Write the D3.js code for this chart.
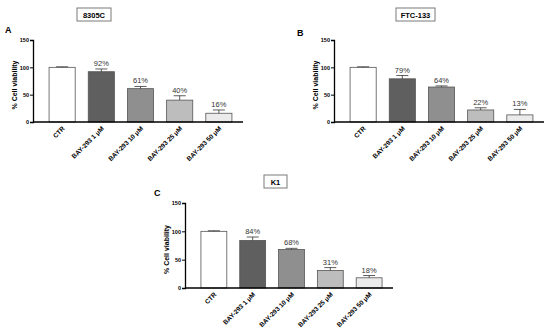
<!DOCTYPE html>
<html>
<head>
<meta charset="utf-8">
<script src="https://cdn.jsdelivr.net/npm/d3@7"></script>
<style>
  body { margin: 0; background: #fff; }
  svg { font-family: "Liberation Sans", Arial, sans-serif; }
</style>
</head>
<body>
<div id="chart"></div>
<script>
// categories shared by all three panels
const categories = ['CTR', 'BAY-293 1 μM', 'BAY-293 10 μM', 'BAY-293 25 μM', 'BAY-293 50 μM'];
const yTicks = [0, 50, 100, 150];
const barColors = ['#ffffff', '#5f5f5f', '#8f8f8f', '#bdbdbd', '#ebebeb'];

// values (mean, error)
const mean8305C = [100, 92, 61, 40, 16];
const err8305C = [1, 5, 4, 8, 6];
const labels8305C = ['', '92%', '61%', '40%', '16%'];

const meanFTC133 = [100, 79, 64, 22, 13];
const errFTC133 = [1, 6, 2, 4, 10];
const labelsFTC133 = ['', '79%', '64%', '22%', '13%'];

const meanK1 = [100, 84, 68, 31, 18];
const errK1 = [1, 6, 2, 5, 4];
const labelsK1 = ['', '84%', '68%', '31%', '18%'];

const panels = [
  {letter: 'A', title: '8305C', mean: mean8305C, err: err8305C, labels: labels8305C,
   left: 33, top: 40, bottom: 122, width: 210, letterX: 5, letterY: 33, boxX: 77, boxY: 8, boxW: 34},
  {letter: 'B', title: 'FTC-133', mean: meanFTC133, err: errFTC133, labels: labelsFTC133,
   left: 334, top: 40, bottom: 122, width: 210, letterX: 297, letterY: 36, boxX: 396, boxY: 8, boxW: 39},
  {letter: 'C', title: 'K1', mean: meanK1, err: errK1, labels: labelsK1,
   left: 185, top: 203, bottom: 288, width: 208, letterX: 154, letterY: 196, boxX: 264, boxY: 175, boxW: 23}
];

const svg = d3.select('#chart').append('svg').attr('width', 550).attr('height', 333);

function drawPanel(p) {
  const g = svg.append('g');
  const x = d3.scaleBand().domain(categories).range([p.left + 3, p.left + p.width + 2]).padding(1/3);
  const y = d3.scaleLinear().domain([0, 150]).range([p.bottom, p.top]);

  // title box
  g.append('rect').attr('x', p.boxX).attr('y', p.boxY).attr('width', p.boxW).attr('height', 13)
    .attr('fill', '#fff').attr('stroke', '#7a7a7a').attr('stroke-width', 1);
  g.append('text').attr('x', p.boxX + p.boxW / 2).attr('y', p.boxY + 9.5)
    .attr('text-anchor', 'middle').attr('font-size', 7.5).attr('font-weight', 'bold').text(p.title);

  g.append('text').attr('x', p.letterX).attr('y', p.letterY)
    .attr('font-size', 9).attr('font-weight', 'bold').text(p.letter);

  // bars
  g.selectAll('rect.bar').data(p.mean).join('rect').attr('class', 'bar')
    .attr('x', (d, i) => x(categories[i]))
    .attr('y', d => y(d))
    .attr('width', x.bandwidth())
    .attr('height', d => y(0) - y(d))
    .attr('fill', (d, i) => barColors[i])
    .attr('stroke', '#555').attr('stroke-width', 0.8);

  // error bars (upper only)
  const eb = g.selectAll('g.err').data(p.mean).join('g').attr('class', 'err');
  eb.append('line')
    .attr('x1', (d, i) => x(categories[i]) + x.bandwidth() / 2)
    .attr('x2', (d, i) => x(categories[i]) + x.bandwidth() / 2)
    .attr('y1', d => y(d))
    .attr('y2', (d, i) => y(d + p.err[i]))
    .attr('stroke', '#333').attr('stroke-width', 0.8);
  eb.append('line')
    .attr('x1', (d, i) => x(categories[i]) + x.bandwidth() / 2 - 6)
    .attr('x2', (d, i) => x(categories[i]) + x.bandwidth() / 2 + 6)
    .attr('y1', (d, i) => y(d + p.err[i]))
    .attr('y2', (d, i) => y(d + p.err[i]))
    .attr('stroke', '#333').attr('stroke-width', 0.8);

  // percentage labels
  g.selectAll('text.pct').data(p.labels).join('text').attr('class', 'pct')
    .attr('x', (d, i) => x(categories[i]) + x.bandwidth() / 2)
    .attr('y', (d, i) => y(p.mean[i] + p.err[i]) - 3)
    .attr('text-anchor', 'middle').attr('font-size', 7.5).attr('fill', '#333')
    .text(d => d);

  // y axis
  const ya = g.append('g').attr('transform', `translate(${p.left},0)`)
    .call(d3.axisLeft(y).tickValues(yTicks).tickSize(3).tickPadding(1));
  ya.select('.domain').attr('stroke-width', 1.3);
  ya.selectAll('text').attr('font-size', 5.5).attr('font-weight', 'bold');

  // x axis
  const xa = g.append('g').attr('transform', `translate(0,${p.bottom})`)
    .call(d3.axisBottom(x).tickSize(0).tickPadding(0));
  xa.select('.domain').attr('d', `M${p.left},0H${p.left + p.width}`).attr('stroke-width', 1.3);
  xa.selectAll('text')
    .attr('font-size', 6.5).attr('font-weight', 'bold')
    .attr('text-anchor', 'end')
    .attr('dy', null).attr('y', 0)
    .attr('transform', 'translate(3,7) rotate(-45)');

  // y label
  g.append('text')
    .attr('transform', `translate(${p.left - 16},${(p.top + p.bottom) / 2 + 4}) rotate(-90)`)
    .attr('text-anchor', 'middle').attr('font-size', 7).attr('font-weight', 'bold')
    .text('% Cell viability');
}

panels.forEach(drawPanel);
</script>
</body>
</html>
